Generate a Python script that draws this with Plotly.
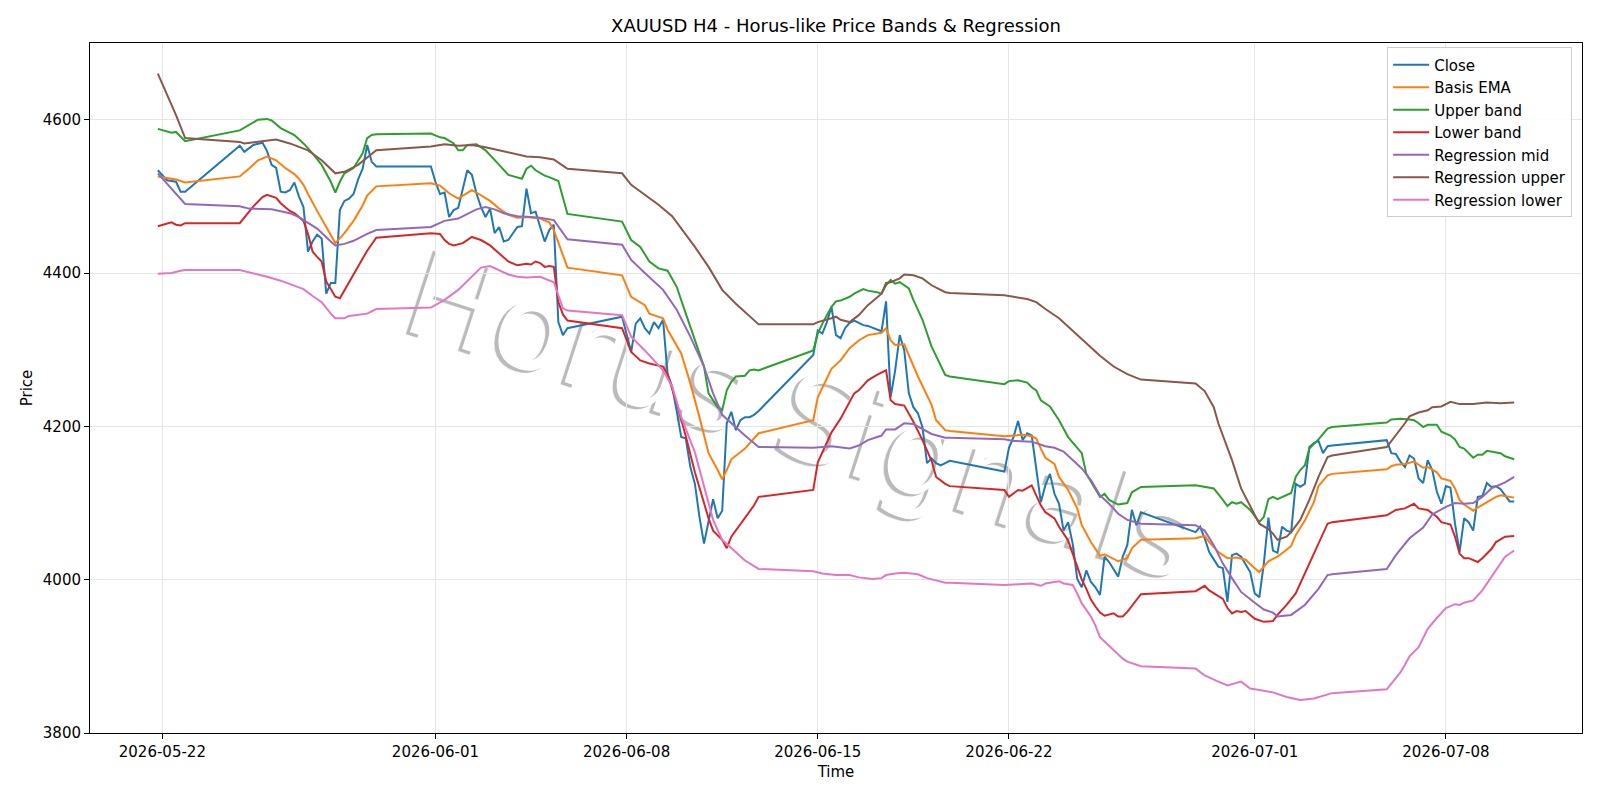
import pandas as pd
import plotly.graph_objects as go

BASE = pd.Timestamp("2026-05-22 00:00")  # hours below are offsets from this time (H4 bars)

CLOSE = [
    (-4, 4534), (4, 4521), (12, 4519), (16, 4506), (20, 4506),
    (68, 4566), (72, 4558), (80, 4567), (88, 4570), (92, 4559), (96, 4541), (100, 4537), (104, 4506),
    (108, 4505), (112, 4508), (116, 4518), (120, 4500), (124, 4486), (128, 4428), (132, 4441), (136, 4450),
    (140, 4445), (144, 4373), (148, 4387), (152, 4387), (156, 4482), (160, 4494), (164, 4497), (168, 4503),
    (172, 4522), (176, 4536), (180, 4567), (184, 4545), (188, 4539),
    (236, 4539), (240, 4519), (244, 4503), (248, 4505), (252, 4473), (256, 4482), (260, 4485), (264, 4508),
    (268, 4534), (272, 4528), (276, 4504), (280, 4486), (284, 4473), (288, 4484), (292, 4452), (296, 4460),
    (300, 4441), (304, 4443), (312, 4460), (316, 4461), (320, 4510), (324, 4478), (328, 4480), (332, 4460),
    (336, 4441), (340, 4456), (344, 4463), (348, 4336), (352, 4319), (356, 4328),
    (404, 4343), (412, 4297), (416, 4334), (420, 4341), (424, 4328), (428, 4321), (432, 4336), (436, 4328),
    (440, 4339), (444, 4268), (448, 4252), (452, 4220), (456, 4186), (460, 4184), (464, 4147), (468, 4125),
    (472, 4082), (476, 4047), (480, 4078), (484, 4105), (488, 4080), (492, 4090), (496, 4204), (500, 4219),
    (504, 4195), (508, 4208), (512, 4212), (516, 4212), (520, 4215), (524, 4220),
    (572, 4293), (576, 4325), (580, 4321), (584, 4336), (588, 4356), (592, 4319), (596, 4315), (600, 4328),
    (604, 4335), (608, 4338), (612, 4335), (616, 4332), (620, 4331), (624, 4329), (628, 4326), (632, 4324),
    (636, 4363), (640, 4238), (644, 4273), (648, 4319), (652, 4299), (656, 4243), (660, 4225), (664, 4217),
    (668, 4199), (672, 4152), (676, 4158), (680, 4152), (684, 4149), (688, 4152), (692, 4155),
    (740, 4141), (744, 4172), (748, 4186), (752, 4207), (756, 4182), (760, 4191), (764, 4188), (768, 4147),
    (772, 4101), (776, 4123), (780, 4138), (784, 4112), (788, 4099), (792, 4064), (796, 4075), (800, 4047),
    (804, 4001), (808, 3990), (812, 4012), (816, 3997), (820, 3990), (824, 3980), (828, 4030), (832, 4023),
    (836, 4014), (840, 4004), (844, 4030), (848, 4045), (852, 4091), (856, 4071), (860, 4088),
    (908, 4062), (912, 4069), (916, 4054), (920, 4036), (928, 4017), (932, 4015), (936, 3971), (940, 4032),
    (944, 4034), (948, 4030), (956, 4010), (960, 3982), (964, 3977), (968, 4021), (972, 4081), (976, 4038),
    (980, 4035), (984, 4069), (988, 4064), (992, 4062), (996, 4125), (1000, 4121), (1004, 4125), (1008, 4173),
    (1012, 4178), (1016, 4181), (1020, 4165), (1024, 4174), (1028, 4175),
    (1076, 4182), (1080, 4165), (1084, 4164), (1088, 4154), (1092, 4147), (1096, 4162), (1100, 4158),
    (1104, 4132), (1108, 4126), (1112, 4156), (1116, 4143), (1120, 4115), (1124, 4099), (1128, 4122),
    (1132, 4120), (1136, 4073), (1140, 4036), (1144, 4080), (1148, 4075), (1152, 4064), (1156, 4108),
    (1160, 4109), (1164, 4126), (1168, 4121), (1172, 4122), (1176, 4118), (1180, 4110), (1184, 4102), (1188, 4102),
]

BASIS_EMA = [
    (-4, 4526), (12, 4522), (20, 4518),
    (68, 4526), (76, 4536), (84, 4547), (92, 4552), (100, 4547), (108, 4537), (116, 4529), (120, 4523),
    (124, 4515), (128, 4503), (132, 4491), (136, 4481), (144, 4460), (152, 4439), (160, 4452), (168, 4468),
    (176, 4488), (180, 4501), (188, 4513),
    (236, 4517), (244, 4514), (252, 4504), (260, 4497), (268, 4505), (272, 4508), (276, 4505), (288, 4494),
    (296, 4484), (304, 4476), (312, 4472), (320, 4473), (332, 4471), (340, 4466), (344, 4456), (356, 4407),
    (404, 4397), (412, 4369), (424, 4358), (428, 4347), (440, 4341), (444, 4326), (456, 4295), (464, 4256),
    (472, 4212), (480, 4165), (488, 4143), (492, 4131), (496, 4143), (500, 4157), (512, 4171), (524, 4191),
    (572, 4208), (576, 4238), (588, 4275), (596, 4286), (604, 4302), (612, 4312), (620, 4319), (632, 4322),
    (636, 4328), (640, 4312), (644, 4306), (652, 4307), (656, 4293), (664, 4265), (676, 4228), (680, 4208),
    (688, 4195), (692, 4194),
    (740, 4187), (752, 4188), (756, 4189), (764, 4187), (768, 4184), (772, 4171), (776, 4159), (784, 4151),
    (788, 4134), (796, 4117), (804, 4093), (808, 4071), (816, 4049), (824, 4031), (828, 4033), (832, 4030),
    (840, 4024), (848, 4028), (852, 4041), (860, 4052),
    (908, 4054), (916, 4057), (920, 4049), (928, 4036), (936, 4028), (944, 4029), (952, 4026), (960, 4015),
    (964, 4010), (972, 4024), (980, 4030), (988, 4039), (992, 4044), (996, 4058), (1004, 4077), (1012, 4101),
    (1016, 4122), (1024, 4136), (1028, 4138),
    (1076, 4144), (1080, 4148), (1084, 4150), (1092, 4151), (1100, 4154), (1108, 4146), (1112, 4147),
    (1120, 4140), (1124, 4132), (1132, 4129), (1136, 4119), (1140, 4104), (1144, 4098), (1152, 4090),
    (1156, 4094), (1164, 4101), (1172, 4108), (1176, 4110), (1188, 4107),
]

UPPER_BAND = [
    (-4, 4588), (8, 4583), (12, 4584), (20, 4572),
    (68, 4586), (76, 4593), (84, 4600), (92, 4601), (96, 4599), (104, 4589), (116, 4580), (124, 4569),
    (132, 4556), (140, 4541), (148, 4519), (152, 4505), (156, 4519), (160, 4530), (168, 4537), (176, 4556),
    (180, 4576), (184, 4580), (188, 4581),
    (236, 4582), (244, 4577), (248, 4576), (256, 4569), (260, 4560), (264, 4560), (268, 4567), (276, 4568),
    (284, 4560), (288, 4554), (296, 4541), (304, 4528), (316, 4523), (320, 4536), (324, 4540), (328, 4534),
    (336, 4527), (340, 4525), (348, 4520), (356, 4477),
    (404, 4467), (412, 4443), (420, 4434), (428, 4415), (436, 4406), (444, 4403), (452, 4382), (460, 4347),
    (468, 4312), (476, 4278), (480, 4243), (488, 4225), (492, 4221), (496, 4247), (500, 4258), (504, 4265),
    (512, 4266), (516, 4273), (520, 4274), (524, 4273),
    (572, 4299), (576, 4321), (580, 4334), (588, 4356), (592, 4363), (596, 4364), (604, 4369), (608, 4373),
    (616, 4379), (620, 4377), (628, 4375), (632, 4373), (636, 4384), (640, 4391), (644, 4386), (648, 4388),
    (656, 4380), (660, 4365), (668, 4339), (676, 4304), (688, 4267), (692, 4265),
    (740, 4255), (744, 4259), (752, 4260), (760, 4257), (764, 4251), (768, 4247), (772, 4234), (780, 4226),
    (788, 4208), (796, 4186), (808, 4165), (812, 4138), (820, 4118), (824, 4108), (828, 4112), (832, 4104),
    (840, 4098), (848, 4100), (852, 4114), (860, 4121),
    (908, 4123), (924, 4119), (932, 4104), (936, 4096), (940, 4101), (944, 4099), (948, 4101), (956, 4091),
    (964, 4075), (968, 4082), (972, 4105), (976, 4108), (980, 4105), (988, 4111), (992, 4113), (996, 4134),
    (1000, 4143), (1004, 4149), (1008, 4171), (1016, 4183), (1024, 4197), (1028, 4199),
    (1076, 4205), (1080, 4209), (1088, 4210), (1096, 4209), (1100, 4208), (1104, 4204), (1108, 4199),
    (1112, 4202), (1120, 4202), (1124, 4193), (1132, 4188), (1136, 4183), (1140, 4173), (1144, 4171),
    (1152, 4159), (1156, 4163), (1160, 4163), (1164, 4168), (1168, 4167), (1176, 4165), (1180, 4161), (1188, 4157),
]

LOWER_BAND = [
    (-4, 4461), (4, 4465), (8, 4466), (12, 4463), (16, 4462), (20, 4465),
    (68, 4465), (80, 4487), (88, 4499), (92, 4502), (96, 4500), (100, 4498), (104, 4491), (112, 4481),
    (116, 4478), (124, 4468), (128, 4451), (132, 4428), (136, 4421), (140, 4415), (144, 4389), (148, 4378),
    (152, 4369), (156, 4367), (160, 4378), (164, 4389), (168, 4398), (176, 4419), (180, 4429), (188, 4446),
    (236, 4452), (244, 4451), (248, 4443), (252, 4438), (256, 4436), (264, 4439), (268, 4443), (272, 4447),
    (276, 4445), (280, 4443), (288, 4436), (296, 4425), (304, 4415), (312, 4410), (320, 4412), (324, 4411),
    (328, 4415), (332, 4413), (336, 4408), (340, 4409), (344, 4408), (348, 4362), (352, 4346), (356, 4338),
    (404, 4328), (412, 4297), (420, 4286), (428, 4282), (440, 4278), (444, 4268), (452, 4230), (460, 4187),
    (468, 4140), (480, 4080), (484, 4064), (492, 4052), (496, 4041), (500, 4056), (504, 4064), (512, 4080),
    (516, 4088), (520, 4097), (524, 4108),
    (572, 4117), (576, 4153), (588, 4192), (596, 4210), (608, 4243), (612, 4247), (620, 4260), (628, 4267),
    (636, 4273), (640, 4234), (644, 4229), (652, 4227), (660, 4206), (668, 4182), (676, 4155), (680, 4134),
    (688, 4125), (692, 4122),
    (740, 4117), (744, 4108), (752, 4117), (756, 4116), (764, 4123), (768, 4110), (772, 4097), (776, 4088),
    (784, 4080), (788, 4069), (796, 4051), (800, 4034), (804, 4017), (808, 4000), (812, 3988), (816, 3974),
    (820, 3965), (824, 3957), (828, 3953), (832, 3954), (836, 3956), (840, 3952), (844, 3952), (848, 3958),
    (852, 3966), (856, 3973), (860, 3981),
    (908, 3985), (916, 3992), (920, 3986), (928, 3978), (932, 3975), (936, 3963), (940, 3956), (944, 3959),
    (948, 3958), (952, 3959), (960, 3949), (968, 3945), (976, 3946), (980, 3954), (988, 3967), (996, 3982),
    (1004, 4008), (1016, 4049), (1024, 4073), (1028, 4075),
    (1076, 4084), (1084, 4091), (1092, 4093), (1100, 4099), (1104, 4093), (1112, 4091), (1120, 4082),
    (1124, 4075), (1132, 4072), (1136, 4056), (1140, 4034), (1144, 4028), (1148, 4028), (1156, 4023),
    (1160, 4028), (1168, 4040), (1172, 4049), (1180, 4056), (1188, 4057),
]

REGRESSION_MID = [
    (-4, 4530), (20, 4490),
    (68, 4487), (76, 4484), (96, 4483), (104, 4480), (112, 4478), (120, 4473), (128, 4465), (136, 4458),
    (148, 4441), (152, 4436), (160, 4438), (168, 4442), (180, 4451), (188, 4456),
    (236, 4460), (244, 4465), (248, 4468), (260, 4471), (268, 4477), (276, 4483), (284, 4486), (292, 4483),
    (300, 4478), (312, 4474), (324, 4473), (332, 4472), (344, 4469), (356, 4444),
    (404, 4437), (412, 4417), (424, 4400), (440, 4378), (452, 4352), (464, 4317), (476, 4278), (484, 4243),
    (492, 4215), (500, 4204), (512, 4188), (524, 4173),
    (572, 4172), (588, 4174), (604, 4171), (612, 4175), (620, 4182), (632, 4188), (636, 4196), (644, 4196),
    (648, 4200), (652, 4204), (660, 4203), (668, 4197), (676, 4190), (688, 4185), (692, 4185),
    (740, 4183), (748, 4181), (764, 4180), (772, 4176), (776, 4174), (784, 4172), (792, 4167), (800, 4156),
    (808, 4145), (816, 4130), (824, 4110), (832, 4099), (840, 4086), (848, 4078), (860, 4073),
    (908, 4071), (916, 4064), (924, 4045), (932, 4021), (940, 4002), (948, 3984), (960, 3970), (968, 3961),
    (976, 3957), (980, 3952), (992, 3954), (1004, 3967), (1016, 3988), (1024, 4006), (1028, 4007),
    (1076, 4014), (1084, 4032), (1096, 4054), (1108, 4068), (1116, 4085), (1128, 4095), (1136, 4100),
    (1144, 4099), (1152, 4100), (1160, 4108), (1168, 4119), (1180, 4127), (1188, 4134),
]

REGRESSION_UPPER = [
    (-4, 4660), (12, 4606), (20, 4576),
    (68, 4571), (72, 4569), (100, 4574), (112, 4569), (128, 4560), (140, 4547), (152, 4530), (160, 4532),
    (172, 4541), (188, 4560),
    (236, 4565), (244, 4567), (248, 4568), (260, 4566), (272, 4567), (284, 4564), (296, 4560), (308, 4556),
    (320, 4552), (332, 4551), (344, 4548), (348, 4544), (356, 4536),
    (404, 4530), (412, 4515), (424, 4502), (436, 4489), (448, 4474), (456, 4458), (468, 4434), (480, 4408),
    (492, 4378), (504, 4360), (516, 4343), (524, 4333),
    (572, 4333), (576, 4336), (588, 4341), (592, 4343), (596, 4339), (604, 4336), (612, 4345), (620, 4358),
    (632, 4373), (636, 4387), (640, 4388), (648, 4393), (652, 4398), (660, 4397), (668, 4393), (676, 4384),
    (688, 4375), (692, 4374),
    (740, 4371), (744, 4370), (752, 4368), (760, 4366), (768, 4362), (776, 4353), (788, 4341), (800, 4325),
    (812, 4308), (824, 4292), (836, 4278), (848, 4268), (860, 4261),
    (908, 4256), (916, 4246), (924, 4225), (928, 4204), (936, 4173), (940, 4156), (948, 4119), (956, 4095),
    (964, 4073), (972, 4066), (976, 4060), (980, 4052), (988, 4056), (992, 4062), (1000, 4078), (1008, 4104),
    (1016, 4134), (1024, 4160), (1028, 4162),
    (1076, 4173), (1084, 4188), (1092, 4204), (1096, 4213), (1104, 4218), (1112, 4221), (1116, 4225),
    (1124, 4226), (1132, 4232), (1140, 4229), (1152, 4229), (1164, 4231), (1176, 4230), (1188, 4231),
]

REGRESSION_LOWER = [
    (-4, 4399), (8, 4400), (16, 4403), (20, 4404),
    (68, 4404), (80, 4400), (92, 4395), (104, 4390), (116, 4383), (124, 4379), (132, 4370), (140, 4362),
    (148, 4347), (152, 4341), (160, 4341), (164, 4344), (180, 4347), (188, 4353),
    (236, 4355), (244, 4362), (248, 4365), (260, 4378), (272, 4395), (280, 4407), (288, 4409), (296, 4403),
    (304, 4398), (312, 4395), (320, 4394), (332, 4395), (336, 4393), (344, 4388), (352, 4354), (356, 4351),
    (404, 4345), (412, 4317), (424, 4299), (432, 4286), (440, 4273), (448, 4252), (456, 4212), (468, 4166),
    (476, 4121), (484, 4078), (492, 4052), (500, 4041), (512, 4025), (524, 4014),
    (572, 4011), (580, 4008), (592, 4006), (604, 4006), (612, 4003), (624, 4001), (632, 4002), (636, 4006),
    (644, 4008), (652, 4009), (664, 4007), (672, 4002), (680, 3999), (688, 3996), (692, 3996),
    (740, 3993), (752, 3994), (764, 3995), (772, 3992), (776, 3995), (784, 3997), (788, 3998), (792, 3995),
    (800, 3993), (804, 3982), (808, 3969), (816, 3952), (820, 3940), (824, 3925), (832, 3914), (840, 3902),
    (844, 3897), (848, 3893), (860, 3887),
    (908, 3884), (916, 3875), (928, 3867), (936, 3862), (948, 3867), (956, 3858), (964, 3856), (976, 3853),
    (988, 3847), (1000, 3843), (1012, 3845), (1024, 3851), (1028, 3852),
    (1076, 3857), (1084, 3871), (1088, 3879), (1092, 3889), (1096, 3900), (1104, 3912), (1112, 3936),
    (1120, 3950), (1128, 3963), (1136, 3968), (1140, 3967), (1144, 3970), (1152, 3973), (1160, 3986),
    (1168, 4003), (1176, 4021), (1180, 4030), (1188, 4038),
]

X_TICKS = ["2026-05-22", "2026-06-01", "2026-06-08", "2026-06-15", "2026-06-22", "2026-07-01", "2026-07-08"]
Y_TICKS = [3800, 4000, 4200, 4400, 4600]
TITLE = "XAUUSD H4 - Horus-like Price Bands & Regression"
WATERMARK = "Horus Signals"

SERIES = [
    ("Close", CLOSE),
    ("Basis EMA", BASIS_EMA),
    ("Upper band", UPPER_BAND),
    ("Lower band", LOWER_BAND),
    ("Regression mid", REGRESSION_MID),
    ("Regression upper", REGRESSION_UPPER),
    ("Regression lower", REGRESSION_LOWER),
]
COLORS = ["#1f77b4", "#ff7f0e", "#2ca02c", "#d62728", "#9467bd", "#8c564b", "#e377c2"]

FONT = "DejaVu Sans"

fig = go.Figure()
for (name, pts), color in zip(SERIES, COLORS):
    xs = [BASE + pd.Timedelta(hours=h) for h, _ in pts]
    ys = [v for _, v in pts]
    fig.add_trace(go.Scatter(x=xs, y=ys, mode="lines", name=name,
                             line=dict(color=color, width=2)))

# watermark: white glyphs over an offset grey copy -> thin grey "engraved" edges
shadow = "-3px 3px 0 #bababa, -3.5px 3.5px 1px rgba(150,150,150,0.35)"

fig.add_shape(
    type="line", xref="paper", yref="paper",
    x0=0.2878, y0=0.6068, x1=0.6702, y1=0.3381,
    line=dict(color="rgba(0,0,0,0)", width=0),
    layer="below",
    label=dict(text=WATERMARK, textposition="middle", textangle=18,
               xanchor="center", yanchor="middle", padding=0,
               font=dict(family=FONT, size=120, color="white", shadow=shadow)),
)

axis_common = dict(
    showline=True, linecolor="black", linewidth=1, mirror=True,
    ticks="outside", ticklen=5, tickwidth=1, tickcolor="black",
    showgrid=True, gridcolor="#e6e6e6", gridwidth=1,
    zeroline=False,
    tickfont=dict(family=FONT, size=15, color="black"),
)

fig.update_layout(
    width=1600, height=800,
    margin=dict(l=90, r=18, t=43, b=67),
    paper_bgcolor="white", plot_bgcolor="white",
    font=dict(family=FONT, size=15, color="black"),
    title=dict(text=TITLE, x=0.5, xref="paper", xanchor="center",
               y=1 - 26 / 800, yref="container", yanchor="middle",
               font=dict(family=FONT, size=18, color="black")),
    xaxis=dict(
        type="date",
        range=["2026-05-19 08:24", "2026-07-12 23:36"],
        tickvals=X_TICKS, ticktext=X_TICKS,
        title=dict(text="Time", standoff=6, font=dict(family=FONT, size=15)),
        **axis_common,
    ),
    yaxis=dict(
        range=[3800, 4700],
        tickvals=Y_TICKS, ticktext=[str(v) for v in Y_TICKS],
        title=dict(text="Price", standoff=6, font=dict(family=FONT, size=15)),
        **axis_common,
    ),
    legend=dict(x=0.9934, y=0.9935, xanchor="right", yanchor="top",
                itemwidth=36,
                bgcolor="rgba(255,255,255,0.85)", bordercolor="#cccccc", borderwidth=1,
                font=dict(family=FONT, size=15, color="black")),
    showlegend=True,
)

fig.write_html("out.html")
